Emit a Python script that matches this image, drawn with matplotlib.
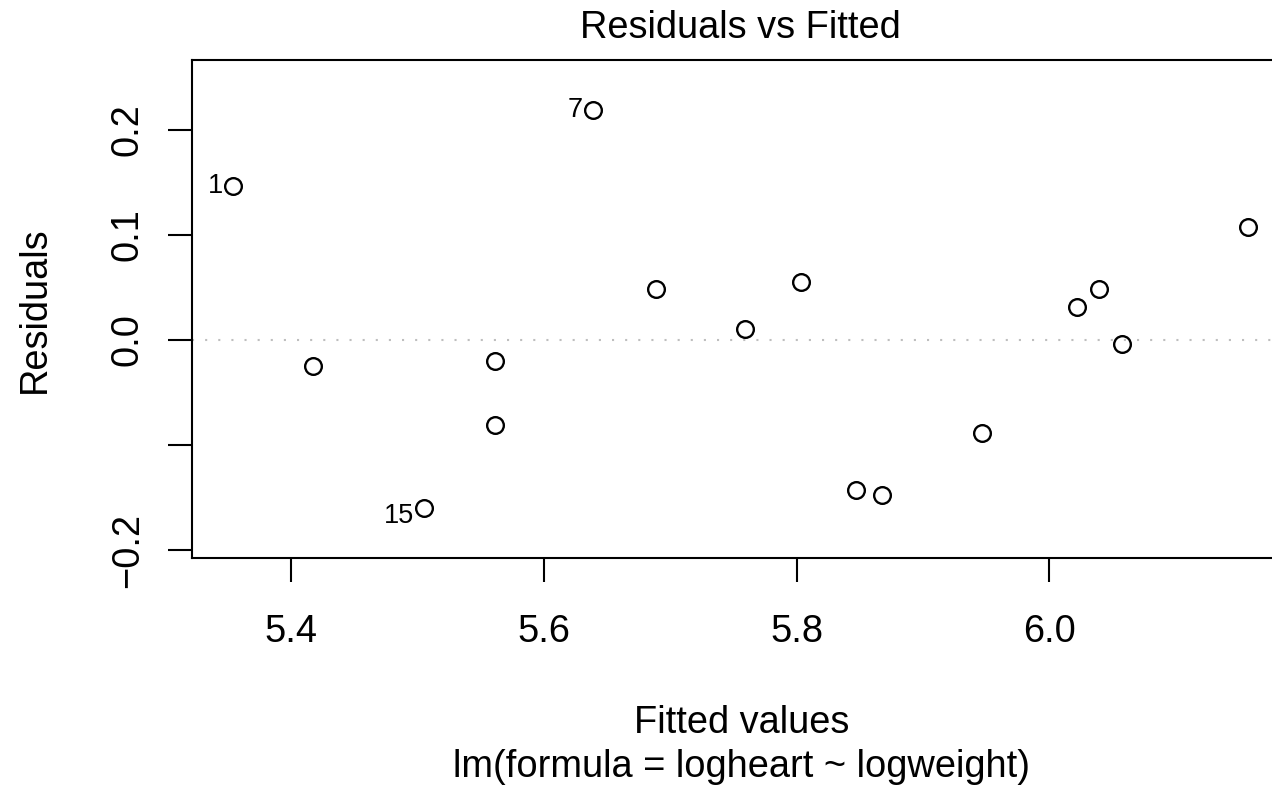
import numpy as np
import matplotlib
matplotlib.use("Agg")
import matplotlib.pyplot as plt

# Residuals vs fitted
fitted = [5.3538, 5.4171, 5.5056, 5.5610, 5.5610, 5.6388, 5.6884, 5.7590,
          5.8033, 5.8468, 5.8675, 5.9471, 6.0215, 6.0394, 6.0572, 6.1574]
resid = [0.1463, -0.0245, -0.1597, -0.0197, -0.0811, 0.2188, 0.0487, 0.0105,
         0.0553, -0.1428, -0.1473, -0.0887, 0.0318, 0.0487, -0.0038, 0.1075]
point_ids = [1, None, 15, None, None, 7, None, None,
             None, None, None, None, None, None, None, None]

xticks = [5.4, 5.6, 5.8, 6.0]
xticklabels = ["5.4", "5.6", "5.8", "6.0"]
yticks = [-0.2, -0.1, 0.0, 0.1, 0.2]
yticklabels = ["\u22120.2", "", "0.0", "0.1", "0.2"]

plt.rcParams['font.family'] = ['Liberation Sans', 'DejaVu Sans']
FS = 27.4

W, H = 1272, 790
fig = plt.figure(figsize=(W / 100, H / 100), dpi=100)
ax = fig.add_axes([192 / W, (H - 558) / H, 1096.9 / W, 498 / H])

# R-style limits: 8% extension for labels plus the usual 4% padding
xr = max(fitted) - min(fitted)
ax.set_xlim(min(fitted) - 0.04 * xr, max(fitted) + 0.04 * xr)
y0, y1 = min(resid), max(resid)
y0, y1 = y0 - 0.08 * (y1 - y0), y1 + 0.08 * (y1 - y0)
yr = y1 - y0
ax.set_ylim(y0 - 0.04 * yr, y1 + 0.04 * yr)

ax.axhline(0, color='#bebebe', lw=1.5, linestyle=(0, (1, 5.3)), zorder=1)
ax.plot(fitted, resid, 'o', ms=12, mfc='none', mec='black', mew=1.7,
        zorder=3, clip_on=False)

# id labels to the left of the extreme points
dy = {1: 0, 7: 0, 15: -8}
for x, y, lab in zip(fitted, resid, point_ids):
    if lab is None:
        continue
    ax.annotate(str(lab), (x, y), xytext=(-7.2, dy[lab] * 0.72),
                textcoords='offset points', ha='right', va='center',
                fontsize=19.5, annotation_clip=False)

ax.set_xticks(xticks)
ax.set_xticklabels(xticklabels)
ax.set_yticks(yticks)
ax.set_yticklabels(yticklabels)
ax.tick_params(axis='both', direction='out', length=17.3, width=1.5,
               labelsize=FS, color='black')
ax.tick_params(axis='x', pad=23)
ax.tick_params(axis='y', pad=16, labelrotation=90)
for t in ax.get_yticklabels():
    t.set_va('center')

for s in ax.spines.values():
    s.set_linewidth(1.5)
    s.set_color('black')

fig.text(740.4 / W, (H - 38.3) / H, "Residuals vs Fitted", ha='center',
         va='baseline', fontsize=FS)
fig.text(741.7 / W, (H - 732.7) / H, "Fitted values", ha='center',
         va='baseline', fontsize=FS)
fig.text(741.7 / W, (H - 776.7) / H, "lm(formula = logheart ~ logweight)",
         ha='center', va='baseline', fontsize=FS)
fig.text(45 / W, (H - 309.2) / H, "Residuals", rotation=90,
         rotation_mode='anchor', ha='center', va='baseline', fontsize=FS)

fig.savefig("out.png", dpi=100)
